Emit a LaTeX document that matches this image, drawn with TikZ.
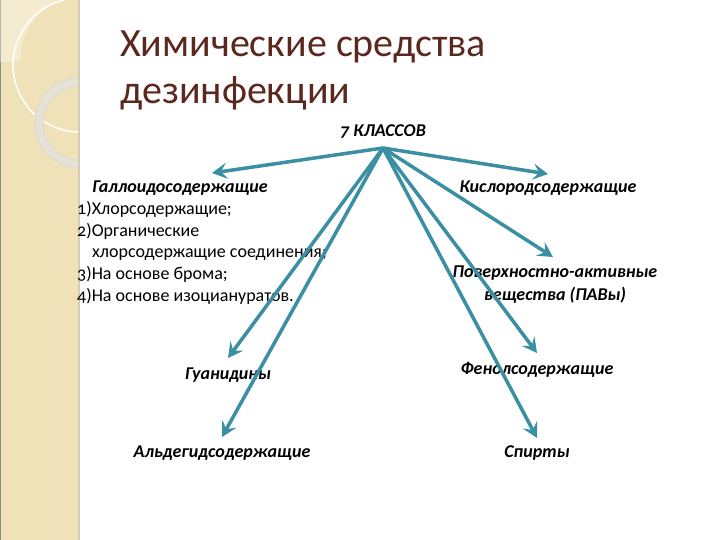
\documentclass[tikz,border=0pt]{standalone}
\usepackage{fontspec}
\setmainfont{Carlito}[Numbers=OldStyle]
\usetikzlibrary{arrows.meta}
\definecolor{titlebrown}{RGB}{92,40,30}
\definecolor{arrowteal}{RGB}{58,143,163}
\definecolor{stripbeige}{RGB}{240,226,184}
\definecolor{stripedge}{RGB}{214,204,176}
\definecolor{ringgrey}{RGB}{230,226,214}
\tikzset{
  klass/.style={font=\fontsize{18}{22}\selectfont\bfseries\itshape},
  arrowline/.style={draw=arrowteal,line width=3.5pt,
    -{Stealth[length=15pt,width=16pt,inset=6pt]}},
}

\begin{document}
\begin{tikzpicture}[x=1pt,y=-1pt]
  \useasboundingbox (0,0) rectangle (720,540);
  \fill[white] (0,0) rectangle (720,540);
  \fill[stripbeige] (0,0) rectangle (78,540);
  \fill[stripedge] (78,0) rectangle (80,540);
  \fill[black!45] (0,0) rectangle (1,540);
  \begin{scope}
    \clip (0,0) rectangle (78,540);
    \fill[white,opacity=0.35] (0,0) -- (58,0) arc[start angle=244,end angle=180,radius=67]
      -- (13,62) -- (0,62) -- cycle;
    \draw[white,line width=1.5pt] (80,65) circle[radius=67];
    \draw[black!15,line width=9pt] (80,123) circle[radius=41];
    \draw[ringgrey,line width=7pt] (80,123) circle[radius=41];
  \end{scope}
  \node[anchor=base west,text=titlebrown,inner sep=0pt,
    font=\fontsize{40}{44}\selectfont] (title1) at (120,57) {Химические средства};
  \node[anchor=base west,text=titlebrown,inner sep=0pt,
    font=\fontsize{40}{44}\selectfont] (title2) at (120,104) {дезинфекции};
  \node[klass] (hub) at (383,131) {7 КЛАССОВ};
  \coordinate (src) at (383,148);
  \node[klass] (galloid) at (180,188) {Галлоидосодержащие};
  \node[anchor=north west,inner sep=0pt,align=left,
    font=\fontsize{18}{21.7}\selectfont] (spisok) at (77,201)
    {1)Хлорсодержащие;\\2)Органические\\\hspace*{15pt}хлорсодержащие соединения;\\
     3)На основе брома;\\4)На основе изоциануратов.};
  \node[klass] (kislorod) at (548,188) {Кислородсодержащие};
  \node[klass,align=center,font=\fontsize{18}{23}\selectfont\bfseries\itshape]
    (pav) at (555,285) {Поверхностно-активные\\вещества (ПАВы)};
  \node[klass] (guan) at (228,375) {Гуанидины};
  \node[klass] (fenol) at (537,370) {Фенолсодержащие};
  \node[klass] (aldeg) at (222,453) {Альдегидсодержащие};
  \node[klass] (spirt) at (537,453) {Спирты};
  \coordinate (tgalloid) at (212,173);
  \coordinate (tkislorod) at (548,174);
  \coordinate (tpav) at (553,257);
  \coordinate (tguan) at (228,358);
  \coordinate (tfenol) at (537,353);
  \coordinate (taldeg) at (222,437);
  \coordinate (tspirt) at (537,438);
  \draw[arrowline] (src) -- (tgalloid);
  \draw[arrowline] (src) -- (tkislorod);
  \draw[arrowline] (src) -- (tpav);
  \draw[arrowline] (src) -- (tguan);
  \draw[arrowline] (src) -- (tfenol);
  \draw[arrowline] (src) -- (taldeg);
  \draw[arrowline] (src) -- (tspirt);
\end{tikzpicture}
\end{document}
